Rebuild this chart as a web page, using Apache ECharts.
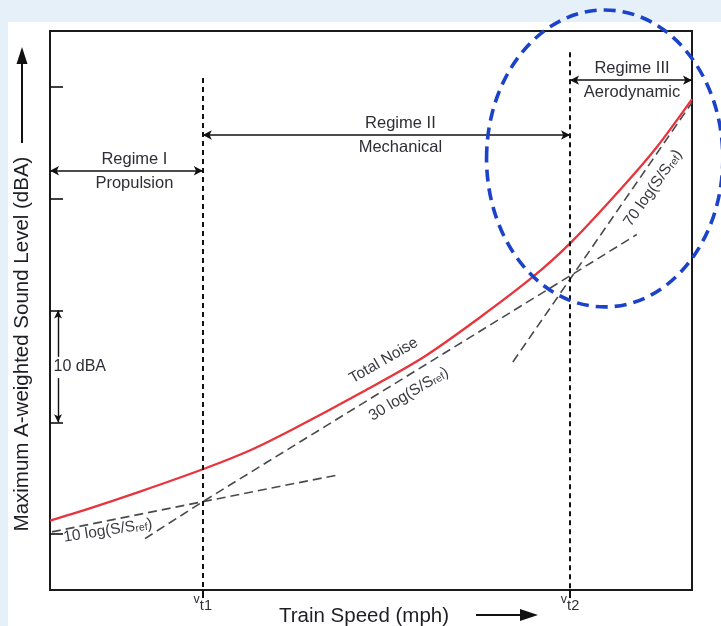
<!DOCTYPE html>
<html>
<head>
<meta charset="utf-8">
<script src="https://cdn.jsdelivr.net/npm/echarts@6/dist/echarts.min.js"></script>
<style>
  html, body { margin: 0; padding: 0; background: #e6f0f8; }
  #chart { width: 721px; height: 626px; }
</style>
</head>
<body>
<div id="chart"></div>
<script>
// Relative train-speed scale (no numeric ticks), level in dBA
const speedMin = 0, speedMax = 100;
const levelMin = 60, levelMax = 110;
const levelTicks = [65, 75, 85, 95, 105];

// Transition speeds v_t1 and v_t2
const transitionSpeeds = [23.8, 81.0];
const transitionNames = ['t1', 't2'];
const transitionLineTop = [105.8, 108.1];

// Total noise (energy sum of the three sources)
const totalNoiseSpeed = [0, 6.2, 14, 23.8, 31.2, 37.9, 48.3, 58.1, 67, 75.2, 81, 88.8, 94.5, 100];
const totalNoiseLevel = [66.2, 67.3, 68.8, 70.8, 72.5, 74.4, 77.6, 80.8, 84.4, 88, 91, 95.8, 99.6, 103.9];

// Asymptotes for each noise source
const propulsionSpeed = [0.3, 23.8, 44.9];
const propulsionLevel = [65.2, 67.9, 70.3];
const mechanicalSpeed = [14.8, 23.8, 81, 91.4];
const mechanicalLevel = [64.6, 67.9, 88.1, 91.8];
const aeroSpeed = [72.1, 81, 100];
const aeroLevel = [80.4, 87.8, 103.6];

const regimeNames = ['Regime I', 'Regime II', 'Regime III'];
const regimeSources = ['Propulsion', 'Mechanical', 'Aerodynamic'];
const regimeArrowLevel = [97.5, 100.7, 105.6];

const pairs = (xs, ys) => xs.map((x, i) => [x, ys[i]]);

const FONT = 'Liberation Sans, Arial, sans-serif';
const TEXT = '#2e2e36';

const chart = echarts.init(document.getElementById('chart'), null, { renderer: 'canvas' });

const bounds = [speedMin, transitionSpeeds[0], transitionSpeeds[1], speedMax];
const labelNudge = [16, 28, 2];
const guideLines = [];

// Regime span arrows with labels above and below
regimeNames.forEach((name, i) => {
  const y = regimeArrowLevel[i];
  guideLines.push([
    { coord: [bounds[i], y], symbol: 'arrow', symbolSize: [7, 9],
      lineStyle: { color: '#111', width: 1.6, type: 'solid' },
      label: { show: true, position: 'insideMiddleTop', distance: 3, formatter: name,
               padding: [0, 0, 0, labelNudge[i]],
               fontFamily: FONT, fontSize: 16.5, color: TEXT } },
    { coord: [bounds[i + 1], y], symbol: 'arrow', symbolSize: [7, 9] }
  ]);
  guideLines.push([
    { coord: [bounds[i], y], symbol: 'none',
      lineStyle: { color: 'rgba(0,0,0,0)', width: 1 },
      label: { show: true, position: 'insideMiddleBottom', distance: 4, formatter: regimeSources[i],
               padding: [0, 0, 0, labelNudge[i]],
               fontFamily: FONT, fontSize: 16.5, color: TEXT } },
    { coord: [bounds[i + 1], y], symbol: 'none' }
  ]);
});

// Vertical dashed lines at the transition speeds
transitionSpeeds.forEach((v, i) => {
  guideLines.push([
    { coord: [v, transitionLineTop[i]], symbol: 'none',
      lineStyle: { color: '#111', width: 2, type: [5, 4] }, label: { show: false } },
    { coord: [v, levelMin], symbol: 'none' }
  ]);
});

// 10 dBA scale bracket between two level ticks
const bracketX = 1.25;
const bracketTop = levelTicks[2], bracketBottom = levelTicks[1];
guideLines.push([
  { coord: [bracketX, bracketTop], symbol: 'arrow', symbolSize: [6, 8],
    lineStyle: { color: '#111', width: 1.4, type: 'solid' }, label: { show: false } },
  { coord: [bracketX, 80.85], symbol: 'none' }
]);
guideLines.push([
  { coord: [bracketX, 78.95], symbol: 'none',
    lineStyle: { color: '#111', width: 1.4, type: 'solid' }, label: { show: false } },
  { coord: [bracketX, bracketBottom], symbol: 'arrow', symbolSize: [6, 8] }
]);

const asymptoteStyle = { color: '#4a4a4a', width: 1.6, type: [9, 5] };

chart.setOption({
  animation: false,
  backgroundColor: 'transparent',
  grid: {
    left: 50, right: 29, top: 31, bottom: 36,
    show: true, backgroundColor: '#ffffff', borderColor: '#1a1a1a', borderWidth: 2
  },
  xAxis: {
    type: 'value', min: speedMin, max: speedMax,
    splitLine: { show: false },
    axisLine: { show: false },
    axisTick: { show: true, customValues: transitionSpeeds, length: 8, inside: false,
                lineStyle: { color: '#111', width: 2 } },
    axisLabel: {
      show: true, customValues: transitionSpeeds, margin: 3,
      formatter: (val) => {
        const idx = transitionSpeeds.indexOf(val);
        return '{v|v}{t|' + (idx >= 0 ? transitionNames[idx] : '') + '}';
      },
      rich: {
        v: { fontFamily: FONT, fontSize: 12.5, color: TEXT, verticalAlign: 'top', lineHeight: 20 },
        t: { fontFamily: FONT, fontSize: 14.5, color: TEXT, verticalAlign: 'bottom', lineHeight: 20 }
      }
    }
  },
  yAxis: {
    type: 'value', min: levelMin, max: levelMax,
    splitLine: { show: false },
    axisLine: { show: false },
    axisLabel: { show: false },
    axisTick: { show: true, customValues: levelTicks, inside: true, length: 13,
                lineStyle: { color: '#111', width: 1.6 } }
  },
  series: [
    {
      name: 'Propulsion', type: 'line', data: pairs(propulsionSpeed, propulsionLevel),
      symbol: 'none', lineStyle: asymptoteStyle, z: 2
    },
    {
      name: 'Mechanical', type: 'line', data: pairs(mechanicalSpeed, mechanicalLevel),
      symbol: 'none', lineStyle: asymptoteStyle, z: 2
    },
    {
      name: 'Aerodynamic', type: 'line', data: pairs(aeroSpeed, aeroLevel),
      symbol: 'none', lineStyle: asymptoteStyle, z: 2
    },
    {
      name: 'Total Noise', type: 'line', data: pairs(totalNoiseSpeed, totalNoiseLevel),
      symbol: 'none', smooth: 0.3,
      lineStyle: { color: '#e8343c', width: 2.3 }, z: 4
    },
    {
      name: 'guides', type: 'line', data: [], silent: true, z: 3,
      markLine: {
        silent: true, animation: false,
        symbol: ['none', 'none'],
        label: { show: false },
        emphasis: { disabled: true },
        data: guideLines
      }
    }
  ]
});

// Annotations placed in data space
const toPx = (p) => chart.convertToPixel({ gridIndex: 0 }, p);
const deg = (d) => d * Math.PI / 180;

const curveLabels = [
  { at: [51.9, 80.6], angle: 30, parts: [['n', 'Total Noise']] },
  { at: [55.8, 77.6], angle: 31, parts: [['n', '30 log(S/S'], ['s', 'ref'], ['n', ')']] },
  { at: [9.0, 65.4], angle: 9, parts: [['n', '10 log(S/S'], ['s', 'ref'], ['n', ')']] },
  { at: [93.8, 96.0], angle: 55, parts: [['n', '70 log(S/S'], ['s', 'ref'], ['n', ')']] }
];

const richSet = {
  n: { fontFamily: FONT, fontSize: 15.5, fill: '#3a3a40', lineHeight: 18, verticalAlign: 'bottom' },
  s: { fontFamily: FONT, fontSize: 10.5, fill: '#3a3a40', lineHeight: 18, verticalAlign: 'bottom' }
};

const graphics = [];

// white sheet behind the figure
graphics.push({
  type: 'rect', z: -10, silent: true,
  shape: { x: 8, y: 22, width: 713, height: 604 },
  style: { fill: '#ffffff' }
});

curveLabels.forEach((c) => {
  const p = toPx(c.at);
  graphics.push({
    type: 'text', x: p[0], y: p[1], rotation: deg(c.angle), z: 20, silent: true,
    style: {
      text: c.parts.map(([k, t]) => '{' + k + '|' + t + '}').join(''),
      rich: richSet, align: 'center', verticalAlign: 'middle'
    }
  });
});

// 10 dBA bracket label
const dbaPos = toPx([0.55, 80.0]);
graphics.push({
  type: 'text', x: dbaPos[0], y: dbaPos[1], z: 20, silent: true,
  style: { text: '10 dBA', fontFamily: FONT, fontSize: 16, fill: TEXT, align: 'left', verticalAlign: 'middle' }
});

// highlight ellipse around the aerodynamic regime
const ellC = toPx([86.4, 98.6]);
const ellE = toPx([86.4 + 18.4, 98.6 - 13.28]);
graphics.push({
  type: 'ellipse', z: 30, silent: true,
  shape: { cx: ellC[0], cy: ellC[1], rx: ellE[0] - ellC[0], ry: ellE[1] - ellC[1] },
  style: { fill: 'none', stroke: '#1b43c9', lineWidth: 3.6, lineDash: [12, 7] }
});

// axis titles with direction arrows
graphics.push({
  type: 'text', x: 22, y: 344, rotation: deg(90), z: 20, silent: true,
  style: { text: 'Maximum A-weighted Sound Level (dBA)', fontFamily: FONT, fontSize: 20.5,
           fill: '#1e1e24', align: 'center', verticalAlign: 'middle' }
});
graphics.push({
  type: 'line', z: 20, silent: true,
  shape: { x1: 22, y1: 143, x2: 22, y2: 60 },
  style: { stroke: '#111', lineWidth: 2 }
});
graphics.push({
  type: 'polygon', z: 20, silent: true,
  shape: { points: [[22, 47], [16.5, 64], [27.5, 64]] },
  style: { fill: '#111' }
});
graphics.push({
  type: 'text', x: 364, y: 616, z: 20, silent: true,
  style: { text: 'Train Speed (mph)', fontFamily: FONT, fontSize: 20.5,
           fill: '#1e1e24', align: 'center', verticalAlign: 'middle' }
});
graphics.push({
  type: 'line', z: 20, silent: true,
  shape: { x1: 476, y1: 615, x2: 524, y2: 615 },
  style: { stroke: '#111', lineWidth: 2 }
});
graphics.push({
  type: 'polygon', z: 20, silent: true,
  shape: { points: [[538, 615], [520, 609], [520, 621]] },
  style: { fill: '#111' }
});

chart.setOption({ graphic: graphics });
</script>
</body>
</html>
